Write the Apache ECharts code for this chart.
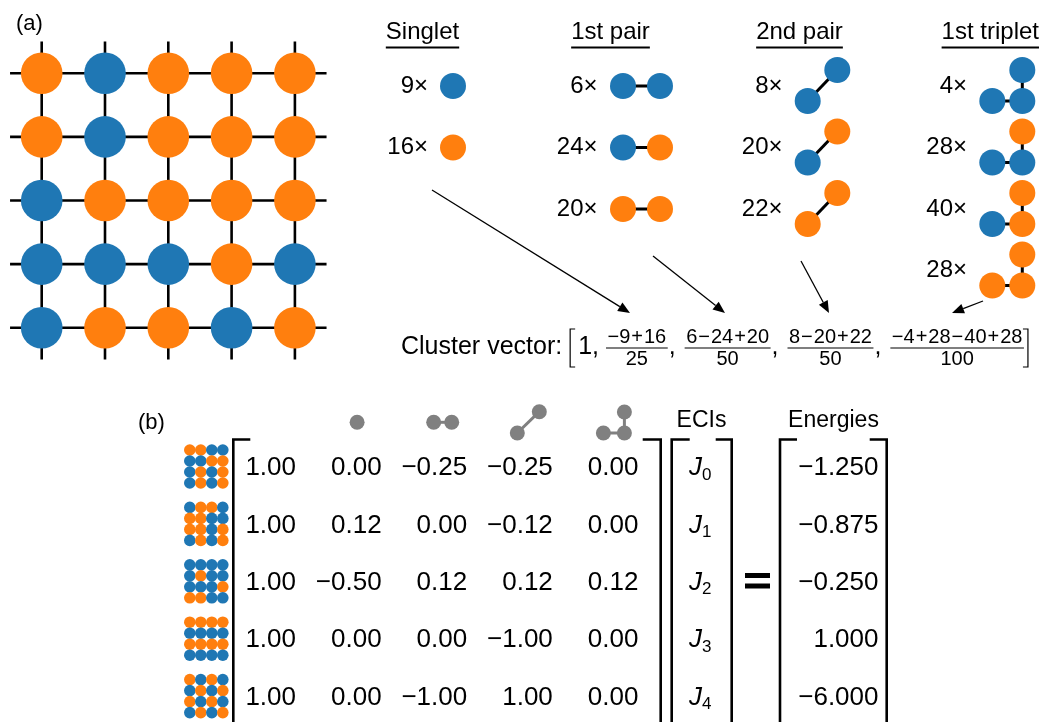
<!DOCTYPE html>
<html><head><meta charset="utf-8">
<script src="https://cdn.jsdelivr.net/npm/echarts@6/dist/echarts.min.js"></script>
<style>html,body{margin:0;padding:0;background:#fff}#c{width:1040px;height:722px}</style>
</head><body><div id="c"></div>
<script>
// ---------------- data ----------------
const latticeSites = [
  ['O','B','O','O','O'],
  ['O','B','O','O','O'],
  ['B','O','O','O','O'],
  ['B','B','B','O','B'],
  ['B','O','O','B','O']];
const clusterTitles = ['Singlet','1st pair','2nd pair','1st triplet'];
const singletCounts = [9, 16];
const singletSites = [['B'], ['O']];
const pair1Counts = [6, 24, 20];
const pair1Sites = [['B','B'], ['B','O'], ['O','O']];
const pair2Counts = [8, 20, 22];
const pair2Sites = [['B','B'], ['B','O'], ['O','O']];          // [lower, upper]
const tripletCounts = [4, 28, 40, 28];
const tripletSites = [['B','B','B'], ['B','B','O'], ['B','O','O'], ['O','O','O']]; // [left, right, top]
const vectorLabel = 'Cluster vector:';
const vectorFirst = '1';
const vectorNumerators = ['−9+16', '6−24+20', '8−20+22', '−4+28−40+28'];
const vectorDenominators = ['25', '50', '50', '100'];
const structureSites = [
  ['OOBB','BBOO','BOBO','BOBO'],
  ['BOOB','OOBB','OOBO','BOBO'],
  ['BBBB','BOBB','BBBO','OOBB'],
  ['OOOO','BBBB','OOOO','BBBB'],
  ['OBOB','BOBO','OBOB','BOBO']];
const clusterMatrix = [
  [1.00, 0.00, -0.25, -0.25, 0.00],
  [1.00, 0.12, 0.00, -0.12, 0.00],
  [1.00, -0.50, 0.12, 0.12, 0.12],
  [1.00, 0.00, 0.00, -1.00, 0.00],
  [1.00, 0.00, -1.00, 1.00, 0.00]];
const eciSubscripts = ['0', '1', '2', '3', '4'];
const energies = [-1.250, -0.875, -0.250, 1.000, -6.000];
const headerECI = 'ECIs';
const headerEnergy = 'Energies';
const panelLabels = ['(a)', '(b)'];

// ---------------- style ----------------
const COL = { B: '#1f77b4', O: '#ff7f0e' };
const GRAY = '#808080';
const FONT = '"Liberation Sans", Arial, Helvetica, sans-serif';

const mctx = document.createElement('canvas').getContext('2d');
function tw(s, size, style) { mctx.font = (style || '') + ' ' + size + 'px ' + FONT; return mctx.measureText(s).width; }
function fmt(v, d) { return (v < 0 ? '−' : '') + Math.abs(v).toFixed(d); }

// helpers in axis units (1 unit = 1 px through the hidden value axes)
function P(api, x, y) { return api.coord([x, y]); }
function circ(api, x, y, r, fill) { const p = P(api, x, y); return { type: 'circle', shape: { cx: p[0], cy: p[1], r: r }, style: { fill: fill } }; }
function seg(api, x1, y1, x2, y2, w, color) { const a = P(api, x1, y1), b = P(api, x2, y2); return { type: 'line', shape: { x1: a[0], y1: a[1], x2: b[0], y2: b[1] }, style: { stroke: color || '#000', lineWidth: w } }; }
function pline(api, pts, w) { return { type: 'polyline', shape: { points: pts.map(q => P(api, q[0], q[1])) }, style: { stroke: '#000', lineWidth: w, fill: null } }; }
function txt(api, x, y, s, size, align, extra) {
  const p = P(api, x, y);
  return { type: 'text', x: p[0], y: p[1], style: Object.assign({ text: s, fontSize: size, fontFamily: FONT, align: align || 'left', verticalAlign: 'middle', fill: '#000' }, extra || {}) };
}
function arrow(api, x1, y1, x2, y2) {
  const a = P(api, x1, y1), b = P(api, x2, y2);
  const dx = b[0] - a[0], dy = b[1] - a[1], L = Math.hypot(dx, dy), ux = dx / L, uy = dy / L;
  const hl = 12, hw = 5;
  const bx = b[0] - ux * hl, by = b[1] - uy * hl;
  return [
    { type: 'line', shape: { x1: a[0], y1: a[1], x2: bx, y2: by }, style: { stroke: '#000', lineWidth: 1.3 } },
    { type: 'polygon', shape: { points: [[b[0], b[1]], [bx - uy * hw, by + ux * hw], [bx + uy * hw, by - ux * hw]] }, style: { fill: '#000' } }
  ];
}
// math-like string: small spacing around binary operators
const OPGAP = 1;
function mathTokens(s) { return s.match(/[0-9]+|[+−]/g); }
function mathWidth(s, size) {
  return mathTokens(s).reduce((w, t, i) => w + tw(t, size) + (i > 0 && /[+−]/.test(t) ? 2 * OPGAP : 0), 0);
}
function mathText(api, cx, y, s, size, out) {
  let x = cx - mathWidth(s, size) / 2;
  mathTokens(s).forEach((t, i) => {
    const bin = i > 0 && /[+−]/.test(t);
    if (bin) x += OPGAP;
    out.push(txt(api, x, y, t, size, 'left'));
    x += tw(t, size) + (bin ? OPGAP : 0);
  });
}

// ---------------- renderers ----------------
function renderLattice(params, api) {
  const ch = [];
  const x0 = 41.7, y0 = 73.3, dx = 63.3, dy = 63.6, n = latticeSites.length;
  for (let i = 0; i < n; i++) {
    ch.push(seg(api, x0 - dx / 2, y0 + i * dy, x0 + (n - 0.5) * dx, y0 + i * dy, 2.6));
    ch.push(seg(api, x0 + i * dx, y0 - dy / 2, x0 + i * dx, y0 + (n - 0.5) * dy, 2.6));
  }
  latticeSites.forEach((row, r) => row.forEach((s, c) => ch.push(circ(api, x0 + c * dx, y0 + r * dy, 20.8, COL[s]))));
  ch.push(txt(api, 16, 24, panelLabels[0], 22));
  return { type: 'group', children: ch };
}

function renderClusters(params, api) {
  const ch = [];
  const titleX = [422.5, 610.5, 799.5, 990.3];
  clusterTitles.forEach((t, i) => {
    const w = tw(t, 24);
    ch.push(txt(api, titleX[i], 32, t, 24, 'center'));
    ch.push(seg(api, titleX[i] - w / 2, 47.5, titleX[i] + w / 2, 47.5, 2));
  });
  const rowY0 = 86, rowDY = 61.5, r = 13;
  const lab = (x, y, n) => txt(api, x, y, n + '×', 24, 'right');
  singletCounts.forEach((n, k) => { const y = rowY0 + k * rowDY; ch.push(lab(428, y, n)); ch.push(circ(api, 453, y, r, COL[singletSites[k][0]])); });
  pair1Counts.forEach((n, k) => {
    const y = rowY0 + k * rowDY; ch.push(lab(597.5, y, n));
    ch.push(seg(api, 623, y, 660, y, 3)); ch.push(circ(api, 623, y, r, COL[pair1Sites[k][0]])); ch.push(circ(api, 660, y, r, COL[pair1Sites[k][1]]));
  });
  pair2Counts.forEach((n, k) => {
    const y = rowY0 + k * rowDY; ch.push(lab(782.5, y, n));
    ch.push(seg(api, 807.7, y + 15, 837.3, y - 16, 3));
    ch.push(circ(api, 807.7, y + 15, r, COL[pair2Sites[k][0]])); ch.push(circ(api, 837.3, y - 16, r, COL[pair2Sites[k][1]]));
  });
  tripletCounts.forEach((n, k) => {
    const y = rowY0 + k * rowDY; ch.push(lab(967, y, n));
    ch.push(seg(api, 992.3, y + 15, 1022.3, y + 15, 3)); ch.push(seg(api, 1022.3, y + 15, 1022.3, y - 16, 3));
    ch.push(circ(api, 992.3, y + 15, r, COL[tripletSites[k][0]])); ch.push(circ(api, 1022.3, y + 15, r, COL[tripletSites[k][1]])); ch.push(circ(api, 1022.3, y - 16, r, COL[tripletSites[k][2]]));
  });
  return { type: 'group', children: ch };
}

function renderVector(params, api) {
  const ch = [];
  // arrows from the cluster tables to the vector entries
  ch.push(...arrow(api, 432, 190, 630, 313));
  ch.push(...arrow(api, 653, 256, 725, 313));
  ch.push(...arrow(api, 801, 261, 829, 313));
  ch.push(...arrow(api, 983, 301, 952, 313));
  const yc = 347, fs = 25, ff = 20;
  let x = 401;
  ch.push(txt(api, x, yc, vectorLabel, fs));
  x += tw(vectorLabel, fs) + 8;
  ch.push(pline(api, [[x + 5, 329], [x, 329], [x, 367], [x + 5, 367]], 1.2));
  x += 8;
  ch.push(txt(api, x, yc, vectorFirst + ',', fs));
  x += tw(vectorFirst + ',', fs) + 7;
  vectorNumerators.forEach((num, i) => {
    const den = vectorDenominators[i];
    const w = Math.max(mathWidth(num, ff), tw(den, ff)) + 3;
    const cx = x + w / 2;
    mathText(api, cx, 337.5, num, ff, ch);
    ch.push(seg(api, x, 348, x + w, 348, 1.2));
    ch.push(txt(api, cx, 359, den, ff, 'center'));
    x += w;
    if (i < vectorNumerators.length - 1) { ch.push(txt(api, x + 1, yc, ',', fs)); x += tw(', ', fs) + 3; }
  });
  x += 4;
  ch.push(pline(api, [[x - 5, 329], [x, 329], [x, 367], [x - 5, 367]], 1.2));
  return { type: 'group', children: ch };
}

function renderMatrix(params, api) {
  const ch = [];
  ch.push(txt(api, 138, 423, panelLabels[1], 22));
  const colR = [296, 381.6, 467.2, 552.8, 638.4];
  const rowY0 = 468, rowDY = 57.4, top = 439.5, bot = 740;
  // header cluster icons (gray)
  const cc = colR.map(v => v - 24.5);
  ch.push(circ(api, cc[1], 422.3, 7.5, GRAY));
  ch.push(seg(api, cc[2] - 9, 422.3, cc[2] + 9, 422.3, 3, GRAY));
  ch.push(circ(api, cc[2] - 9, 422.3, 7.5, GRAY)); ch.push(circ(api, cc[2] + 9, 422.3, 7.5, GRAY));
  ch.push(seg(api, cc[3] - 11, 433, cc[3] + 11, 411.7, 3, GRAY));
  ch.push(circ(api, cc[3] - 11, 433, 7.5, GRAY)); ch.push(circ(api, cc[3] + 11, 411.7, 7.5, GRAY));
  ch.push(seg(api, cc[4] - 10.5, 433, cc[4] + 10.5, 433, 3, GRAY)); ch.push(seg(api, cc[4] + 10.5, 433, cc[4] + 10.5, 412, 3, GRAY));
  ch.push(circ(api, cc[4] - 10.5, 433, 7.5, GRAY)); ch.push(circ(api, cc[4] + 10.5, 433, 7.5, GRAY)); ch.push(circ(api, cc[4] + 10.5, 412, 7.5, GRAY));
  // brackets
  const lb = (x, t) => pline(api, [[x + t, top], [x, top], [x, bot]], 2.6);
  const rb = (x, t) => pline(api, [[x - t, top], [x, top], [x, bot]], 2.6);
  ch.push(lb(233.3, 17)); ch.push(rb(660.7, 18));
  ch.push(lb(671.7, 18)); ch.push(rb(731.7, 16));
  ch.push(lb(780, 17)); ch.push(rb(886.7, 17));
  // headers
  ch.push(txt(api, 701.5, 420.5, headerECI, 23, 'center'));
  ch.push(txt(api, 833.5, 420.5, headerEnergy, 23, 'center'));
  // rows
  clusterMatrix.forEach((row, i) => {
    const y = rowY0 + i * rowDY;
    row.forEach((v, j) => ch.push(txt(api, colR[j], y, fmt(v, 2), 26, 'right')));
    ch.push(txt(api, 702, y, 'J', 26, 'right', { fontStyle: 'italic' }));
    ch.push(txt(api, 702, y + 7, eciSubscripts[i], 17, 'left'));
    ch.push(txt(api, 878.5, y, fmt(energies[i], 3), 26, 'right'));
    // mini structure
    const s = structureSites[i], sx = 189.8, sy = y - 18, d = 11;
    s.forEach((line, rr) => line.split('').forEach((c, k) => ch.push(circ(api, sx + k * d, sy + rr * d, 5.8, COL[c]))));
  });
  // equals sign
  ch.push(seg(api, 745, 575.5, 770, 575.5, 5)); ch.push(seg(api, 745, 586, 770, 586, 5));
  return { type: 'group', children: ch };
}

const chart = echarts.init(document.getElementById('c'), null, { renderer: 'canvas' });
const one = [[0, 0]];
chart.setOption({
  animation: false,
  backgroundColor: '#ffffff',
  grid: { left: 0, right: 0, top: 0, bottom: 0 },
  xAxis: { type: 'value', min: 0, max: 1040, show: false },
  yAxis: { type: 'value', min: 0, max: 722, inverse: true, show: false },
  series: [
    { type: 'custom', data: one, renderItem: renderLattice, silent: true },
    { type: 'custom', data: one, renderItem: renderClusters, silent: true },
    { type: 'custom', data: one, renderItem: renderVector, silent: true },
    { type: 'custom', data: one, renderItem: renderMatrix, silent: true }
  ]
});
</script></body></html>
